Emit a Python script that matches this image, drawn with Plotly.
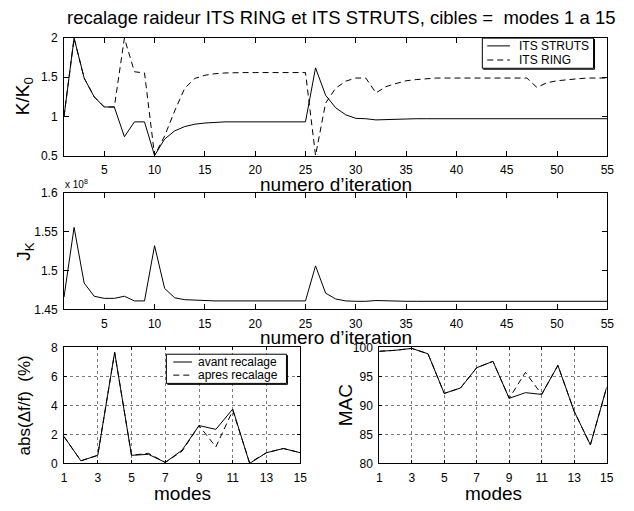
import plotly.graph_objects as go

# ---- data ----
iterations = list(range(1, 56))
its_struts = [1.00, 2.00, 1.49, 1.25, 1.12, 1.12, 0.74, 0.93, 0.93, 0.50,
              0.71, 0.815, 0.87, 0.90, 0.915, 0.925, 0.93, 0.93, 0.93, 0.93,
              0.93, 0.93, 0.93, 0.93, 0.93, 1.62, 1.27, 1.11, 1.02, 0.975,
              0.97, 0.955, 0.96, 0.965, 0.97, 0.97, 0.97, 0.97, 0.97, 0.97,
              0.97, 0.97, 0.97, 0.97, 0.97, 0.97, 0.97, 0.965, 0.97, 0.97,
              0.97, 0.97, 0.97, 0.97, 0.97]
its_ring = [1.00, 2.00, 1.49, 1.25, 1.12, 1.12, 2.00, 1.57, 1.555, 0.50,
            0.75, 1.07, 1.36, 1.485, 1.525, 1.545, 1.555, 1.56, 1.56, 1.56,
            1.56, 1.56, 1.56, 1.56, 1.56, 0.50, 1.17, 1.36, 1.45, 1.49,
            1.49, 1.30, 1.38, 1.42, 1.455, 1.47, 1.48, 1.49, 1.49, 1.49,
            1.49, 1.49, 1.49, 1.49, 1.49, 1.49, 1.49, 1.37, 1.43, 1.455,
            1.47, 1.48, 1.49, 1.49, 1.49]
# J_K in units of 1e8
j_k = [1.466, 1.5555, 1.484, 1.467, 1.4643, 1.4643, 1.467, 1.461, 1.461, 1.532,
       1.477, 1.465, 1.4626, 1.4618, 1.461, 1.461, 1.461, 1.461, 1.461, 1.461,
       1.461, 1.461, 1.461, 1.461, 1.461, 1.506, 1.471, 1.4635, 1.461, 1.4605,
       1.4605, 1.4615, 1.461, 1.4605, 1.4605, 1.4605, 1.4605, 1.4605, 1.4605, 1.4605,
       1.4605, 1.4605, 1.4605, 1.4605, 1.4605, 1.4605, 1.4605, 1.4605, 1.4605, 1.4605,
       1.4605, 1.4605, 1.4605, 1.4605, 1.4605]

modes = list(range(1, 16))
err_avant = [1.85, 0.18, 0.56, 7.66, 0.56, 0.63, 0.07, 0.92, 2.61, 2.35, 3.75, 0.0, 0.74, 1.03, 0.74]
err_apres = [1.85, 0.18, 0.56, 7.66, 0.56, 0.70, 0.07, 0.85, 2.61, 1.14, 3.65, 0.05, 0.74, 1.03, 0.74]
mac_avant = [99.33, 99.5, 99.83, 98.9, 92.07, 93.0, 96.5, 97.6, 91.23, 92.2, 91.9, 96.9, 89.0, 83.2, 93.1]
mac_apres = [99.33, 99.5, 99.83, 98.9, 92.07, 93.0, 96.5, 97.6, 91.23, 95.7, 91.9, 96.9, 89.0, 83.2, 93.1]

top_xticks = [5, 10, 15, 20, 25, 30, 35, 40, 45, 50, 55]
top_yticks = [0.5, 1, 1.5, 2]
top_yticklabels = ["0.5", "1", "1.5", "2"]
mid_yticks = [1.45, 1.5, 1.55, 1.6]
mid_yticklabels = ["1.45", "1.5", "1.55", "1.6"]
mode_ticks = [1, 3, 5, 7, 9, 11, 13, 15]
err_yticks = [0, 2, 4, 6, 8]
mac_yticks = [80, 85, 90, 95, 100]

# ---- layout helpers (pixel -> paper) ----
W, H = 634, 511
FONT = "Liberation Sans, Arial, Helvetica, sans-serif"
DASH = "6px,4px"


def xd(a, b):
    return [a / W, b / W]


def yd(top, bottom):
    return [1 - bottom / H, 1 - top / H]


def px(x):
    return x / W


def py(y):
    return 1 - y / H


fig = go.Figure()
line_solid = dict(color="black", width=1)
line_dash = dict(color="black", width=1, dash=DASH)

fig.add_trace(go.Scatter(x=iterations, y=its_struts, mode="lines", line=line_solid,
                         name="ITS STRUTS", xaxis="x", yaxis="y"))
fig.add_trace(go.Scatter(x=iterations, y=its_ring, mode="lines", line=line_dash,
                         name="ITS RING", xaxis="x", yaxis="y"))
fig.add_trace(go.Scatter(x=iterations, y=j_k, mode="lines", line=line_solid,
                         name="J_K", xaxis="x2", yaxis="y2"))
fig.add_trace(go.Scatter(x=modes, y=err_avant, mode="lines", line=line_solid,
                         name="avant recalage", xaxis="x3", yaxis="y3"))
fig.add_trace(go.Scatter(x=modes, y=err_apres, mode="lines", line=line_dash,
                         name="apres recalage", xaxis="x3", yaxis="y3"))
fig.add_trace(go.Scatter(x=modes, y=mac_avant, mode="lines", line=line_solid,
                         name="MAC avant", xaxis="x4", yaxis="y4"))
fig.add_trace(go.Scatter(x=modes, y=mac_apres, mode="lines", line=line_dash,
                         name="MAC apres", xaxis="x4", yaxis="y4"))

tickfont = dict(family=FONT, size=12, color="black")


def axis(domain, anchor, rng, tickvals, ticktext=None, grid=False, ticklen=5):
    d = dict(domain=domain, anchor=anchor, range=rng, tickmode="array",
             tickvals=tickvals, showline=True, linecolor="black", linewidth=1,
             mirror="ticks", ticks="inside", ticklen=ticklen, tickcolor="black",
             tickwidth=1, tickfont=tickfont, zeroline=False, showgrid=grid,
             ticklabelstandoff=3)
    if ticktext is not None:
        d["ticktext"] = ticktext
    if grid:
        d.update(gridcolor="#7a7a7a", griddash="dot", gridwidth=1)
    return d


layout = dict(
    width=W, height=H, margin=dict(l=0, r=0, t=0, b=0),
    paper_bgcolor="white", plot_bgcolor="white", showlegend=False,
    xaxis=axis(xd(62, 614), "y", [1, 55], top_xticks),
    yaxis=axis(yd(32, 152.7), "x", [0.5, 2], top_yticks, top_yticklabels),
    xaxis2=axis(xd(62, 614), "y2", [1, 55], top_xticks),
    yaxis2=axis(yd(191, 311), "x2", [1.45, 1.6], mid_yticks, mid_yticklabels),
    xaxis3=axis(xd(62, 302), "y3", [1, 15], mode_ticks, grid=True, ticklen=3),
    yaxis3=axis(yd(350, 469.3), "x3", [0, 8], err_yticks, grid=True, ticklen=3),
    xaxis4=axis(xd(382.3, 613.3), "y4", [1, 15], mode_ticks, grid=True, ticklen=3),
    yaxis4=axis(yd(350, 469.3), "x4", [80, 100], mac_yticks, grid=True, ticklen=3),
)
fig.update_layout(**layout)

ann = []


def text(x, y, s, size, angle=0, xanchor="center", yanchor="middle"):
    ann.append(dict(x=px(x), y=py(y), xref="paper", yref="paper", text=s,
                    showarrow=False, textangle=angle, xanchor=xanchor,
                    yanchor=yanchor, font=dict(family=FONT, size=size, color="black")))


text(344, 11, "recalage raideur ITS RING et ITS STRUTS, cibles =  modes 1 a 15", 18.5)
text(22, 92, "K/K<sub>0</sub>", 19, angle=-90)
text(338, 182, "numero d\u2019iteration", 19)
text(22, 251, "J<sub>K</sub>", 19, angle=-90)
text(61, 182, "x 10<sup>8</sup>", 10, xanchor="left")
text(338, 340, "numero d\u2019iteration", 19)
text(22, 410, "abs(\u0394f/f)  (%)", 17, angle=-90)
text(182, 500, "modes", 19)
text(348, 410, "MAC", 19, angle=-90)
text(498, 500, "modes", 19)

# legend labels
text(522, 40, "ITS STRUTS", 12, xanchor="left")
text(522, 54.5, "ITS RING", 12, xanchor="left")
text(196, 365, "avant recalage", 12, xanchor="left")
text(196, 378.5, "apres recalage", 12, xanchor="left")
fig.update_layout(annotations=ann)

shapes = []


def legend_box(x0, y0, x1, y1):
    shapes.append(dict(type="rect", xref="paper", yref="paper", x0=px(x0), x1=px(x1),
                       y0=py(y1), y1=py(y0), line=dict(color="black", width=1),
                       fillcolor="white", layer="above"))
    shapes.append(dict(type="line", xref="paper", yref="paper", x0=px(x0 + 1), x1=px(x1 + 1),
                       y0=py(y1 + 1), y1=py(y1 + 1), line=dict(color="black", width=1),
                       layer="above"))
    shapes.append(dict(type="line", xref="paper", yref="paper", x0=px(x1 + 1), x1=px(x1 + 1),
                       y0=py(y0 + 1), y1=py(y1 + 1), line=dict(color="black", width=1),
                       layer="above"))


def legend_sample(x0, x1, y, dash=None):
    ln = dict(color="black", width=1)
    if dash:
        ln["dash"] = dash
    shapes.append(dict(type="line", xref="paper", yref="paper", x0=px(x0), x1=px(x1),
                       y0=py(y), y1=py(y), line=ln, layer="above"))


legend_box(487, 32, 600, 63)
legend_sample(492, 515, 40)
legend_sample(492, 515, 54.5, DASH)
legend_box(166, 357, 288, 387)
legend_sample(173, 192, 365)
legend_sample(173, 192, 378.5, DASH)
fig.update_layout(shapes=shapes)

fig.write_html("out.html")
